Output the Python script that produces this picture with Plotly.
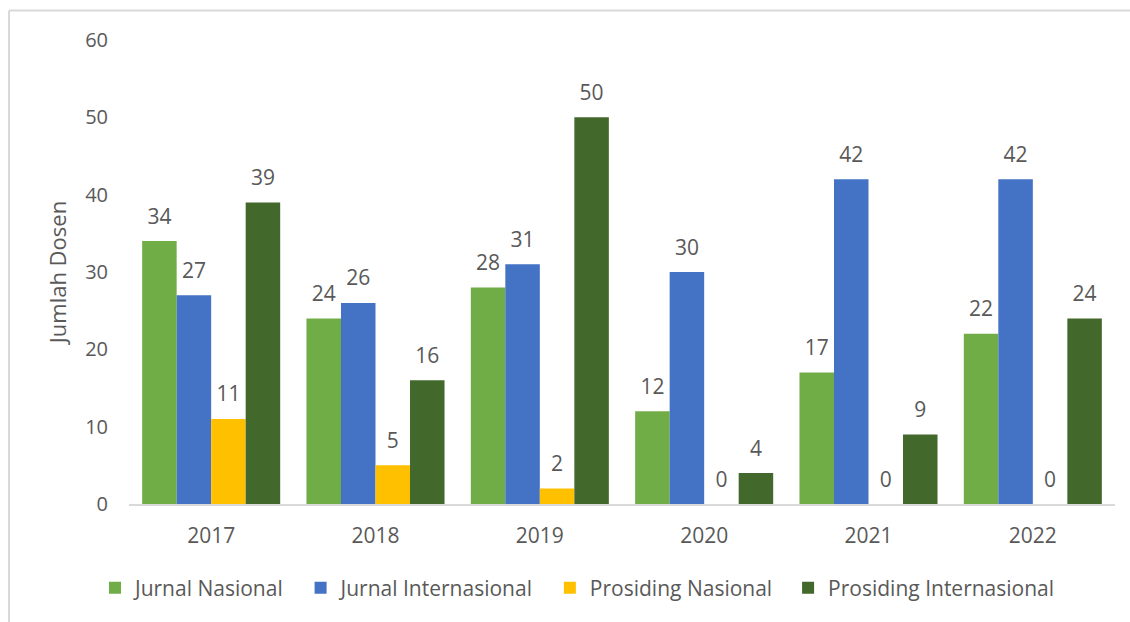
import plotly.graph_objects as go

years = ["2017", "2018", "2019", "2020", "2021", "2022"]
jurnal_nasional = [34, 24, 28, 12, 17, 22]
jurnal_internasional = [27, 26, 31, 30, 42, 42]
prosiding_nasional = [11, 5, 2, 0, 0, 0]
prosiding_internasional = [39, 16, 50, 4, 9, 24]

series = [
    ("Jurnal Nasional", jurnal_nasional, "#70AD47"),
    ("Jurnal Internasional", jurnal_internasional, "#4472C4"),
    ("Prosiding Nasional", prosiding_nasional, "#FFC000"),
    ("Prosiding Internasional", prosiding_internasional, "#43682B"),
]

FONT = "Open Sans"
TXT = "#595959"
PAD = "\u00a0" * 2  # extra spacing between legend entries

fig = go.Figure()
for name, vals, col in series:
    fig.add_trace(go.Bar(
        x=years, y=vals, name=name + PAD,
        marker=dict(color=col, line=dict(width=0)),
        offsetgroup=name, alignmentgroup="a",
    ))
# value labels, grouped to sit above each bar
for name, vals, col in series:
    fig.add_trace(go.Scatter(
        x=years, y=vals, mode="markers+text", showlegend=False,
        offsetgroup=name, alignmentgroup="a",
        marker=dict(size=18, opacity=0),
        text=[str(v) for v in vals], textposition="top center",
        textfont=dict(family=FONT, size=21, color=TXT),
        cliponaxis=False, hoverinfo="skip",
    ))

L, R, T, B = 129, 15, 40, 118
W, H = 1130, 622
pw, ph = W - L - R, H - T - B

def px(x):
    return (x - L) / pw

def py(y):
    return (H - B - y) / ph

fig.update_layout(
    width=W, height=H,
    margin=dict(l=L, r=R, t=T, b=B, pad=0),
    paper_bgcolor="white", plot_bgcolor="white",
    barmode="group", bargap=0.16, bargroupgap=0,
    scattermode="group", scattergap=0.16,
    font=dict(family=FONT, size=18, color=TXT),
    showlegend=True,
    legend=dict(orientation="h", x=px(95), xanchor="left", y=py(588), yanchor="middle",
                font=dict(family=FONT, size=21, color=TXT), itemwidth=30,
                traceorder="normal"),
    xaxis=dict(showgrid=False, showline=True, linecolor="#D9D9D9", linewidth=1.5,
               ticks="", ticklabelstandoff=12,
               tickfont=dict(family=FONT, size=21, color=TXT)),
    yaxis=dict(range=[0, 60], dtick=10, showgrid=False, showline=False, zeroline=False,
               ticks="", ticklabelstandoff=20,
               tickfont=dict(family=FONT, size=20, color=TXT),
               title=dict(text="Jumlah Dosen", standoff=12,
                          font=dict(family=FONT, size=22, color=TXT))),
    shapes=[
        dict(type="line", xref="paper", yref="paper", x0=px(9), x1=px(1135), y0=py(10.5), y1=py(10.5),
             line=dict(color="#D9D9D9", width=2)),
        dict(type="line", xref="paper", yref="paper", x0=px(9), x1=px(9), y0=py(10.5), y1=py(640),
             line=dict(color="#D9D9D9", width=2)),
    ],
)

fig.write_html("out.html", config={"displayModeBar": False},
               post_script="document.body.style.margin='0px';")
